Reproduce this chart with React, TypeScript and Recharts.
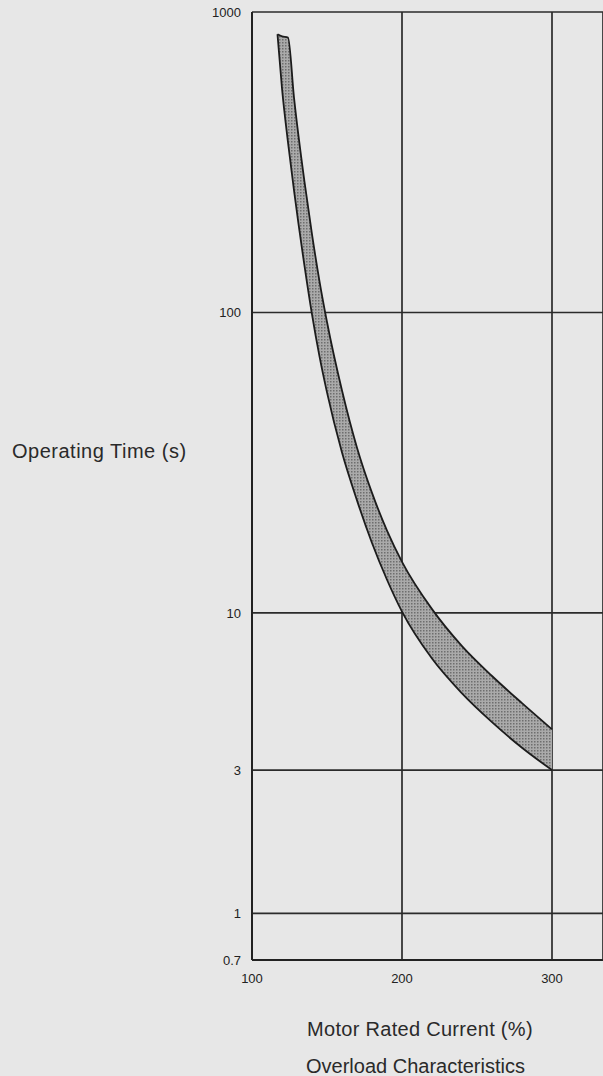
import React from "react";
import {
  AreaChart,
  Area,
  XAxis,
  YAxis,
  CartesianGrid,
  Label,
} from "recharts";

// motor rated current (%) along the band
const currentPct = [117, 120, 124, 128, 135, 140, 145, 150, 160, 170, 180, 190, 200, 220, 240, 260, 280, 300];
// lower edge of the operating time band (s)
const timeLow = [843, 557, 368, 255, 143, 98.6, 71.4, 54.2, 34.2, 23.7, 17.1, 12.9, 10.1, 7.05, 5.4, 4.33, 3.56, 3.0];
// upper edge of the operating time band (s)
const timeHigh = [843, 830, 822, 519, 272, 182, 127, 93, 55, 35.5, 25.1, 18.8, 14.8, 10.3, 7.76, 6.17, 5.01, 4.1];

const xTicks = [100, 200, 300];
const yTicks = [0.7, 1, 3, 10, 100, 1000];

const rows = currentPct.map((x, i) => ({ x, band: [timeLow[i], timeHigh[i]] }));

const ink = "#222";
const textStyle = {
  fontFamily: '"Liberation Sans", Arial, sans-serif',
  fill: "#2a2a2a",
};

const App: React.FC = () => {
  return (
    <div
      style={{
        position: "absolute",
        left: 0,
        top: 0,
        width: 603,
        height: 1076,
        background: "#e7e7e7",
        overflow: "hidden",
      }}
    >
      <AreaChart
        width={603}
        height={1076}
        data={rows}
        margin={{ top: 12, right: 0, left: 0, bottom: 86 }}
      >
        <defs>
          <pattern id="stipple" width="3" height="3" patternUnits="userSpaceOnUse">
            <rect width="3" height="3" fill="#aaa" />
            <rect width="1.5" height="1.5" fill="#6e6e6e" />
          </pattern>
        </defs>
        <CartesianGrid stroke="#2b2b2b" strokeWidth={1.7} />
        <XAxis
          type="number"
          dataKey="x"
          domain={[100, 334]}
          ticks={xTicks}
          allowDataOverflow
          tickSize={0}
          tickMargin={14}
          height={30}
          axisLine={{ stroke: ink, strokeWidth: 2 }}
          tick={{ fontSize: 13, fill: "#222", fontFamily: '"Liberation Sans", Arial, sans-serif' }}
        >
          <Label
            content={() => (
              <g>
                <text x={307} y={1036} fontSize={20} letterSpacing={0.3} {...textStyle}>
                  Motor Rated Current (%)
                </text>
                <text x={306} y={1073} fontSize={20} {...textStyle}>
                  Overload Characteristics
                </text>
              </g>
            )}
          />
        </XAxis>
        <YAxis
          scale="log"
          domain={[0.7, 1000]}
          ticks={yTicks}
          allowDataOverflow
          width={252}
          tickSize={0}
          tickMargin={11}
          axisLine={{ stroke: ink, strokeWidth: 2 }}
          tick={{ fontSize: 13, fill: "#222", fontFamily: '"Liberation Sans", Arial, sans-serif' }}
        >
          <Label
            content={() => (
              <text x={12} y={458} fontSize={20} letterSpacing={0.5} {...textStyle}>
                Operating Time (s)
              </text>
            )}
          />
        </YAxis>
        <Area
          type="monotone"
          dataKey="band"
          stroke="#1c1c1c"
          strokeWidth={1.8}
          fill="url(#stipple)"
          fillOpacity={1}
          dot={false}
          activeDot={false}
          isAnimationActive={false}
        />
      </AreaChart>
    </div>
  );
};

export default App;
